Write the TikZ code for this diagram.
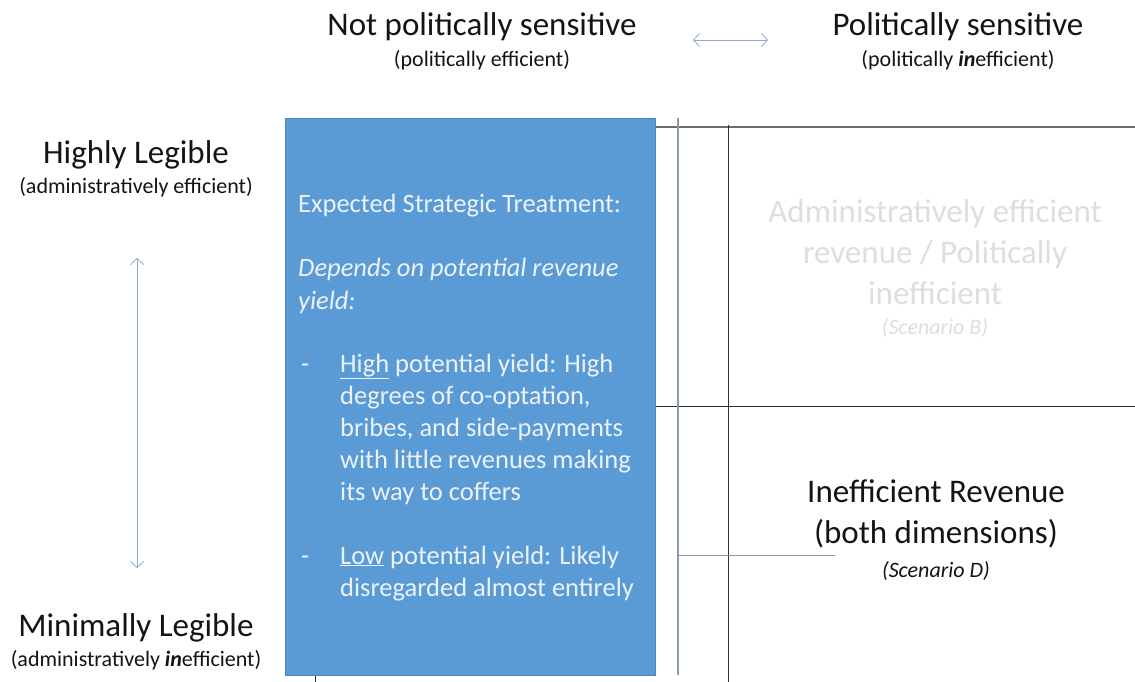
\documentclass[tikz,border=0pt]{standalone}
\usepackage{fontspec}
\setmainfont{Carlito}
\usetikzlibrary{arrows.meta}
\definecolor{boxblue}{RGB}{91,155,213}
\definecolor{boxtext}{RGB}{235,242,250}
\definecolor{arrowblue}{RGB}{140,172,205}
\definecolor{slateline}{RGB}{135,155,178}
\definecolor{gridline}{RGB}{45,45,45}
\definecolor{topline}{RGB}{110,110,110}
\definecolor{faint}{RGB}{222,222,222}
\definecolor{darktext}{RGB}{20,20,20}
\tikzset{
  bigtitle/.style={text=darktext,inner sep=0pt,anchor=center,font=\fontsize{33}{36}\selectfont},
  subtitle/.style={text=darktext,inner sep=0pt,anchor=center,font=\fontsize{22}{24}\selectfont},
  axisarrow/.style={draw=arrowblue,line width=0.8pt,{Straight Barb[length=6pt,width=13pt]}-{Straight Barb[length=6pt,width=13pt]}},
  cellline/.style={inner sep=0pt,anchor=base,font=\fontsize{33}{36}\selectfont},
  scen/.style={inner sep=0pt,anchor=base,font=\fontsize{22}{24}\selectfont\itshape},
  boxline/.style={inner sep=0pt,anchor=base west,text=boxtext,font=\fontsize{26.5}{30}\selectfont},
}
\begin{document}
\begin{tikzpicture}[x=1pt,y=-1pt]
\useasboundingbox[fill=white] (0,0) rectangle (1135,682);
% grid lines
\draw[topline,line width=1.2pt] (655,127) -- (1135,127);
\draw[gridline,line width=1pt] (655,406) -- (1135,406);
\draw[gridline,line width=1pt] (728,125) -- (728,682);
\draw[gridline,line width=1pt] (315,670) -- (315,682);
% blue box
\node[draw=boxblue!85!black,line width=0.4pt,fill=boxblue,minimum width=370pt,minimum height=557pt,inner sep=0pt,anchor=north west] (box) at (285,118) {};
\draw[slateline,line width=1.2pt] (678,118) -- (678,675);
\coordinate (sl) at (678,555);
\coordinate (sr) at (835,555);
\draw[slateline,line width=1pt] (sl) -- (sr);
% box text
\node[boxline] (b1) at (298,212) {Expected Strategic Treatment:};
\node[boxline,font=\fontsize{26.5}{30}\selectfont\itshape] (b2) at (298,276) {Depends on potential revenue};
\node[boxline,font=\fontsize{26.5}{30}\selectfont\itshape] (b3) at (298,309) {yield:};
\node[boxline] (d1) at (301,372) {-};
\node[boxline] (b4) at (340,372) {\underline{High} potential yield: High};
\node[boxline] (b5) at (340,404) {degrees of co-optation,};
\node[boxline] (b6) at (340,436) {bribes, and side-payments};
\node[boxline] (b7) at (340,468) {with little revenues making};
\node[boxline] (b8) at (340,500) {its way to coffers};
\node[boxline] (d2) at (301,564) {-};
\node[boxline] (b9) at (340,564) {\underline{Low} potential yield: Likely};
\node[boxline] (b10) at (340,596) {disregarded almost entirely};
% top labels
\node[bigtitle] (nps) at (482,27) {Not politically sensitive};
\node[subtitle] (npse) at (482,60) {(politically efficient)};
\node[bigtitle] (ps) at (958,27) {Politically sensitive};
\node[subtitle] (psi) at (958,60) {(politically \textbf{\textit{in}}efficient)};
\coordinate (hl) at (693,40);
\coordinate (hr) at (768,40);
\draw[axisarrow] (hl) -- (hr);
% left labels
\node[bigtitle] (hleg) at (136,155) {Highly Legible};
\node[subtitle] (hlege) at (136,187) {(administratively efficient)};
\node[bigtitle] (mleg) at (136,628) {Minimally Legible};
\node[subtitle] (mlegi) at (136,660) {(administratively \textbf{\textit{in}}efficient)};
\coordinate (vt) at (137,258);
\coordinate (vb) at (137,568);
\draw[axisarrow] (vt) -- (vb);
% right cells
\node[cellline,text=faint] (cB1) at (935,222) {Administratively efficient};
\node[cellline,text=faint] (cB2) at (935,263) {revenue / Politically};
\node[cellline,text=faint] (cB3) at (935,304) {inefficient};
\node[scen,text=faint] (scB) at (935,334) {(Scenario B)};
\node[cellline,text=darktext] (cD1) at (936,502) {Inefficient Revenue};
\node[cellline,text=darktext] (cD2) at (936,543) {(both dimensions)};
\node[scen,text=darktext] (scD) at (936,577) {(Scenario D)};
\end{tikzpicture}
\end{document}
